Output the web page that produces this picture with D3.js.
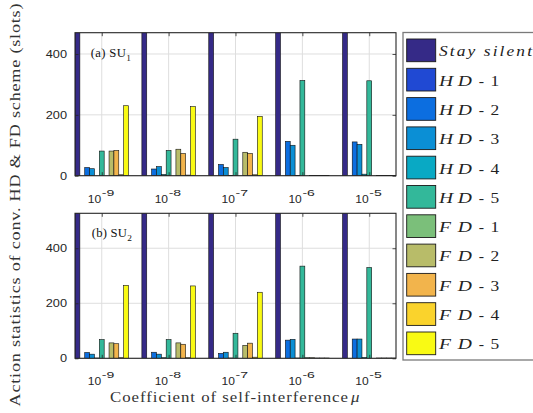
<!DOCTYPE html>
<html>
<head>
<meta charset="utf-8">
<script src="https://cdn.jsdelivr.net/npm/d3@7"></script>
<style>
  body { margin: 0; background: #fff; }
  svg { display: block; }
</style>
</head>
<body>
<svg id="chart" width="533" height="413"></svg>
<script>
// ---- data ---------------------------------------------------------------
// self-interference coefficient mu = 10^exponent
const muExponents = [-9, -8, -7, -6, -5];

const actions = ["Stay silent", "HD - 1", "HD - 2", "HD - 3", "HD - 4", "HD - 5",
                 "FD - 1", "FD - 2", "FD - 3", "FD - 4", "FD - 5"];

const actionColors = ["#352a87", "#2049d3", "#0c6ee0", "#0b8fd5", "#09a9c4", "#33b89a",
                      "#7bbf7a", "#b8bc69", "#f2b44c", "#fad32c", "#f9fa14"];

// slots spent on each action (order follows `actions`), SU1
const su1Mu9 = [474, 0, 27, 23, 0, 81, 0, 81, 83, 3, 230];
const su1Mu8 = [473, 0, 22, 30, 4, 83, 0, 87, 73, 2, 227];
const su1Mu7 = [471, 0, 37, 27, 1, 120, 0, 77, 73, 3, 195];
const su1Mu6 = [474, 0, 113, 100, 1, 313, 0, 1, 1, 1, 1];
const su1Mu5 = [472, 0, 111, 103, 5, 312, 0, 1, 1, 1, 1];

// slots spent on each action, SU2
const su2Mu9 = [528, 0, 21, 15, 1, 68, 0, 56, 53, 2, 265];
const su2Mu8 = [529, 0, 22, 15, 2, 68, 0, 56, 51, 2, 263];
const su2Mu7 = [530, 0, 18, 22, 1, 91, 0, 47, 55, 4, 240];
const su2Mu6 = [528, 0, 66, 69, 1, 335, 2, 2, 1, 1, 1];
const su2Mu5 = [529, 0, 70, 70, 3, 330, 0, 1, 1, 1, 1];

const yTickValues = [0, 200, 400];

// ---- layout -------------------------------------------------------------
const panels = [
  { tag: "(a) SU", sub: "1", groups: [su1Mu9, su1Mu8, su1Mu7, su1Mu6, su1Mu5],
    yMax: 470, top: 32.7, bottom: 175.7 },
  { tag: "(b) SU", sub: "2", groups: [su2Mu9, su2Mu8, su2Mu7, su2Mu6, su2Mu5],
    yMax: 527, top: 213.3, bottom: 358.3 }
];

const plotLeft = 75, plotRight = 396;
const axisColor = "#262626";
const gridColor = "#dedede";
const textColor = "#333";
const sansFont = "Liberation Sans, Arial, sans-serif";
const serifFont = "Liberation Serif, Times New Roman, serif";

const svg = d3.select("#chart");

// Serif text widened a little and then fitted to a given width.
function wideText(parent, str, opts) {
  const sx = opts.sx || 1.0;
  const t = parent.append("text")
    .attr("transform", `translate(${opts.x},${opts.y})${opts.rotate ? ` rotate(${opts.rotate})` : ""} scale(${sx},1)`)
    .attr("text-anchor", opts.anchor || "start")
    .attr("font-family", serifFont)
    .attr("font-size", opts.size)
    .attr("font-style", opts.italic ? "italic" : "normal")
    .attr("fill", opts.fill || textColor)
    .text(str);
  if (opts.width) t.attr("textLength", opts.width / sx).attr("lengthAdjust", opts.adjust || "spacing");
  return t;
}

const x = d3.scaleLinear().domain([0.6, 5.4]).range([plotLeft, plotRight]);
const groupPx = x(1.8) - x(1);
const inner = d3.scaleBand().domain(actions).range([-groupPx / 2, groupPx / 2]).padding(0);
const color = d3.scaleOrdinal().domain(actions).range(actionColors);
const groupPos = muExponents.map((_, i) => i + 1);

panels.forEach((p, pi) => {
  const y = d3.scaleLinear().domain([0, p.yMax]).range([p.bottom, p.top]);
  const g = svg.append("g");

  // plot background
  g.append("rect")
    .attr("x", plotLeft).attr("y", p.top)
    .attr("width", plotRight - plotLeft).attr("height", p.bottom - p.top)
    .attr("fill", "#fff");

  // grid
  g.append("g").selectAll("line").data(groupPos).join("line")
    .attr("x1", d => x(d)).attr("x2", d => x(d))
    .attr("y1", p.top).attr("y2", p.bottom)
    .attr("stroke", gridColor).attr("stroke-width", 1);
  g.append("g").selectAll("line").data(yTickValues).join("line")
    .attr("x1", plotLeft).attr("x2", plotRight)
    .attr("y1", d => y(d)).attr("y2", d => y(d))
    .attr("stroke", gridColor).attr("stroke-width", 1);

  // bars, clipped to the plot area
  const clipId = "clip" + pi;
  svg.append("clipPath").attr("id", clipId).append("rect")
    .attr("x", plotLeft).attr("y", p.top)
    .attr("width", plotRight - plotLeft).attr("height", p.bottom - p.top);

  const barLayer = g.append("g").attr("clip-path", `url(#${clipId})`);
  p.groups.forEach((vals, gi) => {
    barLayer.append("g").selectAll("rect")
      .data(vals.map((v, k) => ({ action: actions[k], v })))
      .join("rect")
      .attr("x", d => x(groupPos[gi]) + inner(d.action))
      .attr("width", inner.bandwidth())
      .attr("y", d => y(d.v))
      .attr("height", d => y(0) - y(d.v))
      .attr("fill", d => color(d.action))
      .attr("stroke", "#111")
      .attr("stroke-width", 0.6);
  });

  // inner tick marks on all four sides
  const tickLen = 3.5;
  const left = g.append("g").attr("transform", `translate(${plotLeft},0)`)
    .call(d3.axisLeft(y).tickValues(yTickValues).tickSizeInner(-tickLen).tickSizeOuter(0).tickPadding(8));
  const right = g.append("g").attr("transform", `translate(${plotRight},0)`)
    .call(d3.axisRight(y).tickValues(yTickValues).tickSizeInner(-tickLen).tickSizeOuter(0).tickFormat(""));
  const bottomAx = g.append("g").attr("transform", `translate(0,${p.bottom})`)
    .call(d3.axisBottom(x).tickValues(groupPos).tickSizeInner(-tickLen).tickSizeOuter(0).tickFormat(""));
  const topAx = g.append("g").attr("transform", `translate(0,${p.top})`)
    .call(d3.axisTop(x).tickValues(groupPos).tickSizeInner(-tickLen).tickSizeOuter(0).tickFormat(""));
  [left, right, bottomAx, topAx].forEach(a => {
    a.select(".domain").remove();
    a.selectAll(".tick line").attr("stroke", axisColor).attr("stroke-width", 0.8);
  });
  left.selectAll(".tick text")
    .attr("fill", axisColor)
    .attr("font-family", sansFont)
    .attr("font-size", 11)
    .attr("textLength", d => String(d).length * 7.1)
    .attr("lengthAdjust", "spacingAndGlyphs");

  // x tick labels: 10^exponent
  const xl = g.append("g");
  muExponents.forEach((e, i) => {
    const cx = x(groupPos[i]);
    const by = p.bottom + 27;
    xl.append("text")
      .attr("x", cx - 0.6).attr("y", by)
      .attr("text-anchor", "end")
      .attr("font-family", sansFont).attr("font-size", 11)
      .attr("fill", axisColor)
      .attr("textLength", 13.4).attr("lengthAdjust", "spacingAndGlyphs")
      .text("10");
    xl.append("text")
      .attr("x", cx).attr("y", by - 7)
      .attr("font-family", sansFont).attr("font-size", 9)
      .attr("fill", axisColor)
      .attr("textLength", 12.5).attr("lengthAdjust", "spacingAndGlyphs")
      .text(String(e));
  });

  // axes box
  g.append("rect")
    .attr("x", plotLeft).attr("y", p.top)
    .attr("width", plotRight - plotLeft).attr("height", p.bottom - p.top)
    .attr("fill", "none").attr("stroke", axisColor).attr("stroke-width", 1.1);

  // panel tag
  const tagY = p.top + 24;
  wideText(g, p.tag, { x: 90.8 + pi, y: tagY, size: 11.5, width: 35, sx: 1.1, fill: "#111" });
  wideText(g, p.sub, { x: 126.2 + pi, y: tagY + 4, size: 8.5, sx: 1.1, fill: "#111" });
});

// ---- axis titles --------------------------------------------------------
wideText(svg, "Action statistics of conv. HD & FD scheme (slots)",
  { x: 19.5, y: 205, rotate: -90, anchor: "middle", size: 14.5, width: 403, sx: 1.25 });

wideText(svg, "Coefficient of self-interference",
  { x: 110, y: 402, size: 14, width: 238, sx: 1.2 });
wideText(svg, "μ", { x: 351, y: 402, size: 14, italic: true, width: 11, sx: 1.2 });

// ---- legend -------------------------------------------------------------
const legTop = 32.5, legBottom = 360, legLeft = 403;
svg.append("rect")
  .attr("x", legLeft).attr("y", legTop)
  .attr("width", 150).attr("height", legBottom - legTop)
  .attr("fill", "#fff").attr("stroke", "#7a7a7a").attr("stroke-width", 1.3);

const rowY = d3.scaleLinear().domain([0, 10]).range([39, 332]);
const leg = svg.append("g").selectAll("g").data(actions).join("g")
  .attr("transform", (d, i) => `translate(0,${rowY(i)})`);

leg.append("rect")
  .attr("x", 406.7).attr("y", 0).attr("width", 29).attr("height", 22.7)
  .attr("fill", d => color(d)).attr("stroke", "#1a1a1a").attr("stroke-width", 0.9);

leg.each(function (d) {
  const row = d3.select(this);
  const base = 17.3;
  if (d === "Stay silent") {
    wideText(row, d, { x: 439, y: base, size: 14.5, italic: true, width: 93, sx: 1.2, fill: "#222" });
  } else {
    const [scheme, num] = d.split(" - ");
    wideText(row, scheme, { x: 439, y: base, size: 14.5, italic: true, width: 33, sx: 1.35, fill: "#222" });
    wideText(row, "-", { x: 481.5, y: base, size: 14.5, anchor: "middle", sx: 1.1, fill: "#222" });
    wideText(row, num, { x: 490.5, y: base, size: 14.5, width: 9, sx: 1.2, fill: "#222" });
  }
});
</script>
</body>
</html>
